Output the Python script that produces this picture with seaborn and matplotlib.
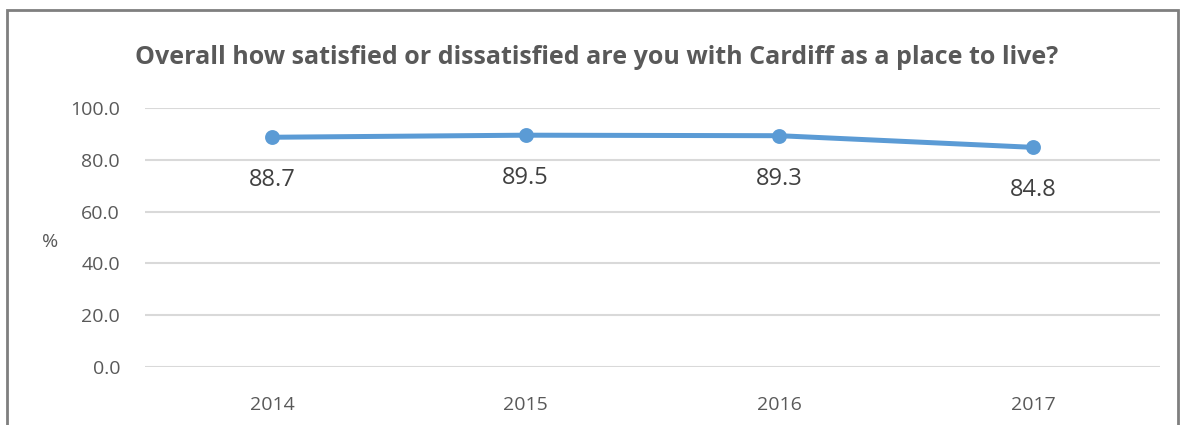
import matplotlib
matplotlib.use("Agg")
import matplotlib.pyplot as plt
import seaborn as sns
import pandas as pd
from matplotlib.patches import Rectangle

years = ["2014", "2015", "2016", "2017"]
satisfied = [88.7, 89.5, 89.3, 84.8]
yticks = [0, 20, 40, 60, 80, 100]
title = "Overall how satisfied or dissatisfied are you with Cardiff as a place to live?"

sns.set_theme(style="white")
plt.rcParams['font.family'] = ['Open Sans', 'DejaVu Sans']

df = pd.DataFrame({"year": years, "value": satisfied})

fig = plt.figure(figsize=(11.86, 4.25), dpi=100)
ax = fig.add_axes([0.1223, 0.1365, 0.8558, 0.6094])

line_color = "#5B9BD5"
sns.pointplot(data=df, x="year", y="value", ax=ax, color=line_color,
              markers="o", markersize=8, linewidth=3.6)

for i, v in enumerate(satisfied):
    ax.annotate(f"{v:.1f}", (i, v), xytext=(0, -31), textcoords="offset points",
                ha="center", va="center", fontsize=17, color="#404040")

ax.set_xlim(-0.5, 3.5)
ax.set_ylim(0, 100)
ax.set_yticks(yticks)
ax.set_yticklabels([f"{t:.1f}" for t in yticks])
ax.grid(axis="y", color="#D9D9D9", linewidth=1.5)
ax.set_axisbelow(True)
for s in ax.spines.values():
    s.set_visible(False)
ax.tick_params(axis="both", length=0, labelsize=14, labelcolor="#595959")
ax.tick_params(axis="y", pad=18)
ax.tick_params(axis="x", pad=21)
ax.set_xlabel("")
ax.set_ylabel("")

fig.text(50 / 1186, 1 - 242 / 425, "%", fontsize=14, color="#595959", ha="center", va="center")
fig.text(597 / 1186, 1 - 58 / 425, title, fontsize=18, fontweight="bold",
         color="#595959", ha="center", va="center")

# outer frame
fig.patches.append(Rectangle((7 / 1186, -0.05), (1178 - 7) / 1186, 1.05 - 10 / 425,
                             transform=fig.transFigure, fill=False,
                             edgecolor="#7F7F7F", linewidth=2))

fig.savefig("out.png", dpi=100)
